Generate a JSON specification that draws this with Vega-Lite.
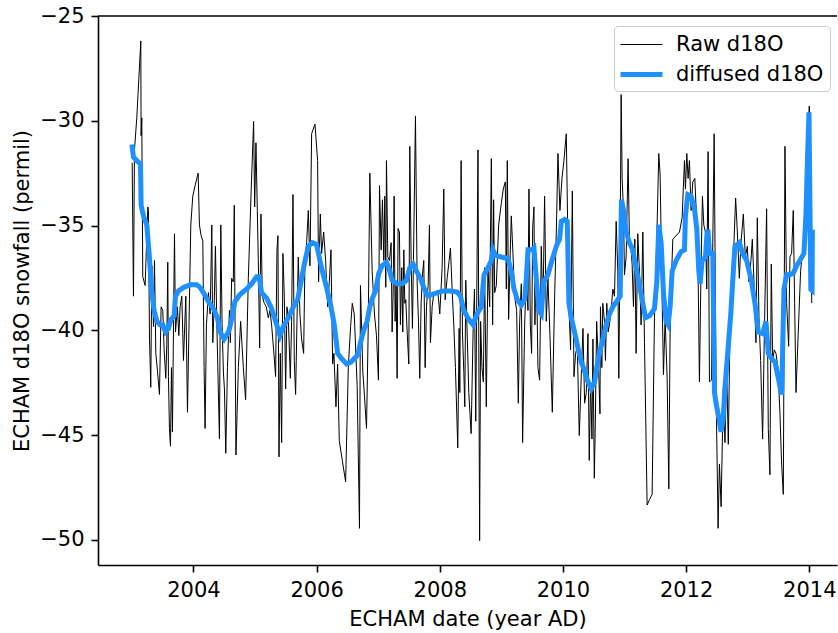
{
  "$schema": "https://vega.github.io/schema/vega-lite/v6.json",
  "width": 739,
  "height": 549,
  "autosize": {"type": "none"},
  "padding": {"left": 98, "top": 16, "right": 1, "bottom": 68},
  "background": "white",
  "config": {
    "font": "DejaVu Sans",
    "view": {"stroke": null},
    "axis": {
      "labelFont": "DejaVu Sans", "labelFontSize": 21, "labelColor": "black",
      "titleFont": "DejaVu Sans", "titleFontSize": 21, "titleFontWeight": "normal", "titleColor": "black",
      "tickColor": "black", "tickSize": 7, "tickWidth": 1.6,
      "domainColor": "black", "domainWidth": 1.6, "grid": false, "labelPadding": 7
    },
    "legend": {
      "orient": "none", "legendX": 516, "legendY": 10,
      "labelFont": "DejaVu Sans", "labelFontSize": 21, "labelColor": "black",
      "symbolType": "M-1.75,0L1.75,0", "symbolSize": 576, "symbolOffset": 7, "labelOffset": 20,
      "fillColor": "white", "strokeColor": "#cccccc", "cornerRadius": 4,
      "padding": 6, "rowPadding": 5
    }
  },
  "datasets": {
    "series": [
      {"s":"Raw d18O","t":2003.005,"v":-32.0},{"s":"Raw d18O","t":2003.026,"v":-38.37},{"s":"Raw d18O","t":2003.042,"v":-31.39},{"s":"Raw d18O","t":2003.080,"v":-29.86},{"s":"Raw d18O","t":2003.145,"v":-26.19},{"s":"Raw d18O","t":2003.150,"v":-30.71},{"s":"Raw d18O","t":2003.161,"v":-29.86},{"s":"Raw d18O","t":2003.177,"v":-37.44},{"s":"Raw d18O","t":2003.215,"v":-37.86},{"s":"Raw d18O","t":2003.259,"v":-34.11},{"s":"Raw d18O","t":2003.269,"v":-34.28},{"s":"Raw d18O","t":2003.286,"v":-40.33},{"s":"Raw d18O","t":2003.307,"v":-42.72},{"s":"Raw d18O","t":2003.324,"v":-36.92},{"s":"Raw d18O","t":2003.351,"v":-39.82},{"s":"Raw d18O","t":2003.367,"v":-36.67},{"s":"Raw d18O","t":2003.389,"v":-41.10},{"s":"Raw d18O","t":2003.416,"v":-41.95},{"s":"Raw d18O","t":2003.448,"v":-43.06},{"s":"Raw d18O","t":2003.475,"v":-38.88},{"s":"Raw d18O","t":2003.502,"v":-39.05},{"s":"Raw d18O","t":2003.524,"v":-40.93},{"s":"Raw d18O","t":2003.551,"v":-42.29},{"s":"Raw d18O","t":2003.567,"v":-40.67},{"s":"Raw d18O","t":2003.583,"v":-36.75},{"s":"Raw d18O","t":2003.594,"v":-42.21},{"s":"Raw d18O","t":2003.610,"v":-44.68},{"s":"Raw d18O","t":2003.627,"v":-45.53},{"s":"Raw d18O","t":2003.643,"v":-41.78},{"s":"Raw d18O","t":2003.659,"v":-44.85},{"s":"Raw d18O","t":2003.675,"v":-40.08},{"s":"Raw d18O","t":2003.692,"v":-35.39},{"s":"Raw d18O","t":2003.708,"v":-40.08},{"s":"Raw d18O","t":2003.740,"v":-38.88},{"s":"Raw d18O","t":2003.762,"v":-40.25},{"s":"Raw d18O","t":2003.784,"v":-38.88},{"s":"Raw d18O","t":2003.811,"v":-38.37},{"s":"Raw d18O","t":2003.838,"v":-41.44},{"s":"Raw d18O","t":2003.876,"v":-38.37},{"s":"Raw d18O","t":2003.903,"v":-43.91},{"s":"Raw d18O","t":2003.935,"v":-38.54},{"s":"Raw d18O","t":2003.957,"v":-34.97},{"s":"Raw d18O","t":2003.989,"v":-33.60},{"s":"Raw d18O","t":2004.027,"v":-33.09},{"s":"Raw d18O","t":2004.076,"v":-32.50},{"s":"Raw d18O","t":2004.097,"v":-34.97},{"s":"Raw d18O","t":2004.124,"v":-35.48},{"s":"Raw d18O","t":2004.152,"v":-35.73},{"s":"Raw d18O","t":2004.173,"v":-41.78},{"s":"Raw d18O","t":2004.189,"v":-44.68},{"s":"Raw d18O","t":2004.211,"v":-39.74},{"s":"Raw d18O","t":2004.244,"v":-38.20},{"s":"Raw d18O","t":2004.271,"v":-39.22},{"s":"Raw d18O","t":2004.298,"v":-34.97},{"s":"Raw d18O","t":2004.314,"v":-40.59},{"s":"Raw d18O","t":2004.335,"v":-39.05},{"s":"Raw d18O","t":2004.357,"v":-35.99},{"s":"Raw d18O","t":2004.379,"v":-39.57},{"s":"Raw d18O","t":2004.406,"v":-43.14},{"s":"Raw d18O","t":2004.422,"v":-45.19},{"s":"Raw d18O","t":2004.444,"v":-34.97},{"s":"Raw d18O","t":2004.465,"v":-39.74},{"s":"Raw d18O","t":2004.487,"v":-42.04},{"s":"Raw d18O","t":2004.503,"v":-42.80},{"s":"Raw d18O","t":2004.525,"v":-45.87},{"s":"Raw d18O","t":2004.552,"v":-41.78},{"s":"Raw d18O","t":2004.584,"v":-39.05},
      {"s":"Raw d18O","t":2004.600,"v":-40.59},{"s":"Raw d18O","t":2004.620,"v":-37.52},{"s":"Raw d18O","t":2004.647,"v":-37.69},{"s":"Raw d18O","t":2004.663,"v":-34.03},{"s":"Raw d18O","t":2004.690,"v":-45.95},{"s":"Raw d18O","t":2004.729,"v":-41.78},{"s":"Raw d18O","t":2004.766,"v":-39.57},{"s":"Raw d18O","t":2004.810,"v":-41.78},{"s":"Raw d18O","t":2004.847,"v":-43.31},{"s":"Raw d18O","t":2004.891,"v":-37.52},{"s":"Raw d18O","t":2004.934,"v":-33.60},{"s":"Raw d18O","t":2004.977,"v":-30.03},{"s":"Raw d18O","t":2004.994,"v":-34.11},{"s":"Raw d18O","t":2005.015,"v":-31.05},{"s":"Raw d18O","t":2005.037,"v":-34.28},{"s":"Raw d18O","t":2005.053,"v":-36.67},{"s":"Raw d18O","t":2005.075,"v":-40.84},{"s":"Raw d18O","t":2005.096,"v":-34.45},{"s":"Raw d18O","t":2005.118,"v":-38.37},{"s":"Raw d18O","t":2005.150,"v":-38.71},{"s":"Raw d18O","t":2005.183,"v":-38.88},{"s":"Raw d18O","t":2005.215,"v":-39.40},{"s":"Raw d18O","t":2005.242,"v":-39.05},{"s":"Raw d18O","t":2005.269,"v":-39.74},{"s":"Raw d18O","t":2005.302,"v":-40.93},{"s":"Raw d18O","t":2005.334,"v":-42.21},{"s":"Raw d18O","t":2005.356,"v":-36.16},{"s":"Raw d18O","t":2005.372,"v":-35.48},{"s":"Raw d18O","t":2005.389,"v":-46.04},{"s":"Raw d18O","t":2005.410,"v":-41.10},{"s":"Raw d18O","t":2005.432,"v":-45.36},{"s":"Raw d18O","t":2005.453,"v":-36.33},{"s":"Raw d18O","t":2005.475,"v":-38.37},{"s":"Raw d18O","t":2005.497,"v":-42.80},{"s":"Raw d18O","t":2005.518,"v":-38.88},{"s":"Raw d18O","t":2005.540,"v":-39.40},{"s":"Raw d18O","t":2005.573,"v":-42.29},{"s":"Raw d18O","t":2005.594,"v":-39.57},{"s":"Raw d18O","t":2005.616,"v":-33.52},{"s":"Raw d18O","t":2005.637,"v":-41.44},{"s":"Raw d18O","t":2005.659,"v":-43.06},{"s":"Raw d18O","t":2005.681,"v":-39.57},{"s":"Raw d18O","t":2005.702,"v":-36.50},{"s":"Raw d18O","t":2005.729,"v":-39.22},{"s":"Raw d18O","t":2005.756,"v":-40.42},{"s":"Raw d18O","t":2005.789,"v":-41.10},{"s":"Raw d18O","t":2005.811,"v":-36.67},{"s":"Raw d18O","t":2005.838,"v":-35.82},{"s":"Raw d18O","t":2005.865,"v":-34.28},{"s":"Raw d18O","t":2005.892,"v":-36.92},{"s":"Raw d18O","t":2005.919,"v":-30.62},{"s":"Raw d18O","t":2005.973,"v":-30.16},{"s":"Raw d18O","t":2006.016,"v":-31.90},{"s":"Raw d18O","t":2006.032,"v":-37.69},{"s":"Raw d18O","t":2006.060,"v":-34.45},{"s":"Raw d18O","t":2006.081,"v":-36.33},{"s":"Raw d18O","t":2006.114,"v":-35.31},{"s":"Raw d18O","t":2006.146,"v":-36.67},{"s":"Raw d18O","t":2006.179,"v":-38.88},{"s":"Raw d18O","t":2006.206,"v":-37.69},{"s":"Raw d18O","t":2006.233,"v":-36.16},{"s":"Raw d18O","t":2006.260,"v":-41.61},{"s":"Raw d18O","t":2006.281,"v":-41.10},{"s":"Raw d18O","t":2006.314,"v":-43.65},{"s":"Raw d18O","t":2006.341,"v":-41.61},{"s":"Raw d18O","t":2006.368,"v":-45.27},{"s":"Raw d18O","t":2006.417,"v":-46.21},{"s":"Raw d18O","t":2006.471,"v":-47.23},{"s":"Raw d18O","t":2006.514,"v":-41.78},{"s":"Raw d18O","t":2006.552,"v":-39.82},{"s":"Raw d18O","t":2006.579,"v":-38.71},{"s":"Raw d18O","t":2006.611,"v":-39.22},
      {"s":"Raw d18O","t":2006.658,"v":-42.63},{"s":"Raw d18O","t":2006.696,"v":-49.45},{"s":"Raw d18O","t":2006.712,"v":-37.86},{"s":"Raw d18O","t":2006.750,"v":-41.95},{"s":"Raw d18O","t":2006.777,"v":-43.14},{"s":"Raw d18O","t":2006.810,"v":-44.68},{"s":"Raw d18O","t":2006.837,"v":-40.08},{"s":"Raw d18O","t":2006.864,"v":-32.50},{"s":"Raw d18O","t":2006.902,"v":-37.18},{"s":"Raw d18O","t":2006.939,"v":-39.22},{"s":"Raw d18O","t":2006.972,"v":-40.25},{"s":"Raw d18O","t":2007.004,"v":-42.38},{"s":"Raw d18O","t":2007.021,"v":-33.09},{"s":"Raw d18O","t":2007.048,"v":-36.16},{"s":"Raw d18O","t":2007.069,"v":-33.77},{"s":"Raw d18O","t":2007.091,"v":-36.67},{"s":"Raw d18O","t":2007.107,"v":-33.60},{"s":"Raw d18O","t":2007.123,"v":-37.95},{"s":"Raw d18O","t":2007.134,"v":-31.90},{"s":"Raw d18O","t":2007.156,"v":-36.50},{"s":"Raw d18O","t":2007.183,"v":-36.67},{"s":"Raw d18O","t":2007.210,"v":-35.82},{"s":"Raw d18O","t":2007.226,"v":-40.08},{"s":"Raw d18O","t":2007.242,"v":-38.37},{"s":"Raw d18O","t":2007.259,"v":-33.60},{"s":"Raw d18O","t":2007.275,"v":-39.57},{"s":"Raw d18O","t":2007.291,"v":-37.69},{"s":"Raw d18O","t":2007.307,"v":-42.29},{"s":"Raw d18O","t":2007.323,"v":-35.14},{"s":"Raw d18O","t":2007.345,"v":-35.31},{"s":"Raw d18O","t":2007.361,"v":-39.74},{"s":"Raw d18O","t":2007.383,"v":-37.01},{"s":"Raw d18O","t":2007.399,"v":-40.08},{"s":"Raw d18O","t":2007.416,"v":-36.16},{"s":"Raw d18O","t":2007.432,"v":-38.71},{"s":"Raw d18O","t":2007.448,"v":-38.54},{"s":"Raw d18O","t":2007.470,"v":-40.08},{"s":"Raw d18O","t":2007.497,"v":-41.61},{"s":"Raw d18O","t":2007.513,"v":-31.22},{"s":"Raw d18O","t":2007.535,"v":-36.67},{"s":"Raw d18O","t":2007.556,"v":-39.91},{"s":"Raw d18O","t":2007.578,"v":-35.48},{"s":"Raw d18O","t":2007.605,"v":-29.77},{"s":"Raw d18O","t":2007.632,"v":-37.69},{"s":"Raw d18O","t":2007.654,"v":-39.57},{"s":"Raw d18O","t":2007.675,"v":-42.29},{"s":"Raw d18O","t":2007.697,"v":-38.71},{"s":"Raw d18O","t":2007.719,"v":-37.35},{"s":"Raw d18O","t":2007.740,"v":-36.67},{"s":"Raw d18O","t":2007.762,"v":-41.78},{"s":"Raw d18O","t":2007.784,"v":-38.88},{"s":"Raw d18O","t":2007.811,"v":-37.86},{"s":"Raw d18O","t":2007.832,"v":-34.97},{"s":"Raw d18O","t":2007.848,"v":-40.59},{"s":"Raw d18O","t":2007.876,"v":-38.88},{"s":"Raw d18O","t":2007.903,"v":-38.20},{"s":"Raw d18O","t":2007.930,"v":-38.20},{"s":"Raw d18O","t":2007.968,"v":-38.12},{"s":"Raw d18O","t":2008.000,"v":-39.22},{"s":"Raw d18O","t":2008.038,"v":-37.01},{"s":"Raw d18O","t":2008.065,"v":-33.26},{"s":"Raw d18O","t":2008.087,"v":-38.54},{"s":"Raw d18O","t":2008.119,"v":-37.52},{"s":"Raw d18O","t":2008.152,"v":-36.67},{"s":"Raw d18O","t":2008.173,"v":-36.07},{"s":"Raw d18O","t":2008.200,"v":-38.03},{"s":"Raw d18O","t":2008.227,"v":-39.74},{"s":"Raw d18O","t":2008.254,"v":-41.78},{"s":"Raw d18O","t":2008.292,"v":-45.61},{"s":"Raw d18O","t":2008.314,"v":-39.91},{"s":"Raw d18O","t":2008.325,"v":-42.97},{"s":"Raw d18O","t":2008.346,"v":-31.90},{"s":"Raw d18O","t":2008.368,"v":-40.08},{"s":"Raw d18O","t":2008.390,"v":-41.95},{"s":"Raw d18O","t":2008.406,"v":-43.65},{"s":"Raw d18O","t":2008.422,"v":-37.61},{"s":"Raw d18O","t":2008.444,"v":-40.08},{"s":"Raw d18O","t":2008.471,"v":-42.97},{"s":"Raw d18O","t":2008.509,"v":-44.93},{"s":"Raw d18O","t":2008.541,"v":-40.08},{"s":"Raw d18O","t":2008.563,"v":-38.03},{"s":"Raw d18O","t":2008.584,"v":-44.34},
      {"s":"Raw d18O","t":2008.620,"v":-31.39},{"s":"Raw d18O","t":2008.647,"v":-50.04},{"s":"Raw d18O","t":2008.663,"v":-39.57},{"s":"Raw d18O","t":2008.685,"v":-41.78},{"s":"Raw d18O","t":2008.707,"v":-42.46},{"s":"Raw d18O","t":2008.728,"v":-37.01},{"s":"Raw d18O","t":2008.755,"v":-43.65},{"s":"Raw d18O","t":2008.782,"v":-37.01},{"s":"Raw d18O","t":2008.810,"v":-38.88},{"s":"Raw d18O","t":2008.837,"v":-31.81},{"s":"Raw d18O","t":2008.858,"v":-39.74},{"s":"Raw d18O","t":2008.874,"v":-33.77},{"s":"Raw d18O","t":2008.891,"v":-38.20},{"s":"Raw d18O","t":2008.918,"v":-37.86},{"s":"Raw d18O","t":2008.956,"v":-34.97},{"s":"Raw d18O","t":2008.999,"v":-33.94},{"s":"Raw d18O","t":2009.031,"v":-33.26},{"s":"Raw d18O","t":2009.064,"v":-32.92},{"s":"Raw d18O","t":2009.080,"v":-38.03},{"s":"Raw d18O","t":2009.096,"v":-31.90},{"s":"Raw d18O","t":2009.118,"v":-39.48},{"s":"Raw d18O","t":2009.140,"v":-36.67},{"s":"Raw d18O","t":2009.161,"v":-34.54},{"s":"Raw d18O","t":2009.188,"v":-36.33},{"s":"Raw d18O","t":2009.215,"v":-38.37},{"s":"Raw d18O","t":2009.248,"v":-39.05},{"s":"Raw d18O","t":2009.275,"v":-43.48},{"s":"Raw d18O","t":2009.297,"v":-39.57},{"s":"Raw d18O","t":2009.324,"v":-37.78},{"s":"Raw d18O","t":2009.345,"v":-45.36},{"s":"Raw d18O","t":2009.378,"v":-39.74},{"s":"Raw d18O","t":2009.405,"v":-37.35},{"s":"Raw d18O","t":2009.432,"v":-39.05},{"s":"Raw d18O","t":2009.448,"v":-33.26},{"s":"Raw d18O","t":2009.470,"v":-39.74},{"s":"Raw d18O","t":2009.491,"v":-41.10},{"s":"Raw d18O","t":2009.508,"v":-35.14},{"s":"Raw d18O","t":2009.529,"v":-34.11},{"s":"Raw d18O","t":2009.545,"v":-39.74},{"s":"Raw d18O","t":2009.567,"v":-36.33},{"s":"Raw d18O","t":2009.594,"v":-41.78},{"s":"Raw d18O","t":2009.621,"v":-42.38},{"s":"Raw d18O","t":2009.648,"v":-35.99},{"s":"Raw d18O","t":2009.675,"v":-39.05},{"s":"Raw d18O","t":2009.702,"v":-33.60},{"s":"Raw d18O","t":2009.729,"v":-39.57},{"s":"Raw d18O","t":2009.756,"v":-37.52},{"s":"Raw d18O","t":2009.789,"v":-40.25},{"s":"Raw d18O","t":2009.827,"v":-43.91},{"s":"Raw d18O","t":2009.865,"v":-38.37},{"s":"Raw d18O","t":2009.892,"v":-35.31},{"s":"Raw d18O","t":2009.919,"v":-31.56},{"s":"Raw d18O","t":2009.951,"v":-34.28},{"s":"Raw d18O","t":2009.984,"v":-32.75},{"s":"Raw d18O","t":2010.016,"v":-31.90},{"s":"Raw d18O","t":2010.054,"v":-30.62},{"s":"Raw d18O","t":2010.097,"v":-38.88},{"s":"Raw d18O","t":2010.124,"v":-40.93},{"s":"Raw d18O","t":2010.152,"v":-33.35},{"s":"Raw d18O","t":2010.179,"v":-42.21},{"s":"Raw d18O","t":2010.206,"v":-41.10},{"s":"Raw d18O","t":2010.233,"v":-40.76},{"s":"Raw d18O","t":2010.265,"v":-45.02},{"s":"Raw d18O","t":2010.298,"v":-42.12},{"s":"Raw d18O","t":2010.325,"v":-39.91},{"s":"Raw d18O","t":2010.352,"v":-43.48},{"s":"Raw d18O","t":2010.379,"v":-42.97},{"s":"Raw d18O","t":2010.406,"v":-40.16},{"s":"Raw d18O","t":2010.427,"v":-46.21},{"s":"Raw d18O","t":2010.449,"v":-42.46},{"s":"Raw d18O","t":2010.471,"v":-45.19},{"s":"Raw d18O","t":2010.487,"v":-40.42},{"s":"Raw d18O","t":2010.509,"v":-47.06},{"s":"Raw d18O","t":2010.525,"v":-44.51},{"s":"Raw d18O","t":2010.547,"v":-39.57},{"s":"Raw d18O","t":2010.579,"v":-41.78},{"s":"Raw d18O","t":2010.601,"v":-43.99},
      {"s":"Raw d18O","t":2010.609,"v":-38.88},{"s":"Raw d18O","t":2010.631,"v":-41.78},{"s":"Raw d18O","t":2010.647,"v":-38.71},{"s":"Raw d18O","t":2010.674,"v":-39.57},{"s":"Raw d18O","t":2010.690,"v":-41.44},{"s":"Raw d18O","t":2010.712,"v":-38.71},{"s":"Raw d18O","t":2010.734,"v":-40.08},{"s":"Raw d18O","t":2010.755,"v":-39.74},{"s":"Raw d18O","t":2010.782,"v":-39.05},{"s":"Raw d18O","t":2010.810,"v":-38.03},{"s":"Raw d18O","t":2010.837,"v":-38.37},{"s":"Raw d18O","t":2010.864,"v":-34.80},{"s":"Raw d18O","t":2010.891,"v":-37.18},{"s":"Raw d18O","t":2010.907,"v":-42.29},{"s":"Raw d18O","t":2010.929,"v":-35.65},{"s":"Raw d18O","t":2010.945,"v":-28.75},{"s":"Raw d18O","t":2010.961,"v":-32.75},{"s":"Raw d18O","t":2010.983,"v":-34.28},{"s":"Raw d18O","t":2010.999,"v":-37.35},{"s":"Raw d18O","t":2011.026,"v":-36.50},{"s":"Raw d18O","t":2011.058,"v":-31.81},{"s":"Raw d18O","t":2011.080,"v":-35.82},{"s":"Raw d18O","t":2011.102,"v":-35.99},{"s":"Raw d18O","t":2011.123,"v":-36.84},{"s":"Raw d18O","t":2011.145,"v":-38.88},{"s":"Raw d18O","t":2011.167,"v":-35.65},{"s":"Raw d18O","t":2011.188,"v":-41.10},{"s":"Raw d18O","t":2011.215,"v":-35.39},{"s":"Raw d18O","t":2011.242,"v":-37.18},{"s":"Raw d18O","t":2011.269,"v":-39.74},{"s":"Raw d18O","t":2011.297,"v":-35.31},{"s":"Raw d18O","t":2011.324,"v":-40.59},{"s":"Raw d18O","t":2011.367,"v":-48.34},{"s":"Raw d18O","t":2011.405,"v":-48.08},{"s":"Raw d18O","t":2011.448,"v":-47.83},{"s":"Raw d18O","t":2011.486,"v":-39.40},{"s":"Raw d18O","t":2011.524,"v":-35.65},{"s":"Raw d18O","t":2011.556,"v":-31.56},{"s":"Raw d18O","t":2011.578,"v":-32.58},{"s":"Raw d18O","t":2011.610,"v":-38.37},{"s":"Raw d18O","t":2011.632,"v":-42.12},{"s":"Raw d18O","t":2011.659,"v":-39.40},{"s":"Raw d18O","t":2011.692,"v":-42.29},{"s":"Raw d18O","t":2011.719,"v":-47.57},{"s":"Raw d18O","t":2011.740,"v":-40.08},{"s":"Raw d18O","t":2011.762,"v":-37.52},{"s":"Raw d18O","t":2011.784,"v":-35.65},{"s":"Raw d18O","t":2011.892,"v":-35.31},{"s":"Raw d18O","t":2011.935,"v":-34.63},{"s":"Raw d18O","t":2011.973,"v":-31.90},{"s":"Raw d18O","t":2011.989,"v":-33.26},{"s":"Raw d18O","t":2012.011,"v":-31.56},{"s":"Raw d18O","t":2012.032,"v":-32.75},{"s":"Raw d18O","t":2012.054,"v":-31.90},{"s":"Raw d18O","t":2012.081,"v":-34.28},{"s":"Raw d18O","t":2012.108,"v":-32.92},{"s":"Raw d18O","t":2012.141,"v":-32.75},{"s":"Raw d18O","t":2012.168,"v":-34.54},{"s":"Raw d18O","t":2012.195,"v":-37.35},{"s":"Raw d18O","t":2012.216,"v":-42.46},{"s":"Raw d18O","t":2012.244,"v":-36.67},{"s":"Raw d18O","t":2012.265,"v":-33.60},{"s":"Raw d18O","t":2012.287,"v":-34.97},{"s":"Raw d18O","t":2012.314,"v":-35.31},{"s":"Raw d18O","t":2012.335,"v":-38.03},{"s":"Raw d18O","t":2012.357,"v":-31.47},{"s":"Raw d18O","t":2012.379,"v":-42.46},{"s":"Raw d18O","t":2012.411,"v":-42.38},{"s":"Raw d18O","t":2012.433,"v":-35.82},{"s":"Raw d18O","t":2012.455,"v":-30.62},{"s":"Raw d18O","t":2012.487,"v":-42.97},{"s":"Raw d18O","t":2012.519,"v":-49.45},{"s":"Raw d18O","t":2012.541,"v":-46.38},{"s":"Raw d18O","t":2012.568,"v":-48.42},
      {"s":"Raw d18O","t":2012.604,"v":-42.80},{"s":"Raw d18O","t":2012.631,"v":-45.36},{"s":"Raw d18O","t":2012.658,"v":-41.78},{"s":"Raw d18O","t":2012.685,"v":-45.44},{"s":"Raw d18O","t":2012.712,"v":-40.08},{"s":"Raw d18O","t":2012.739,"v":-38.37},{"s":"Raw d18O","t":2012.766,"v":-36.67},{"s":"Raw d18O","t":2012.804,"v":-33.69},{"s":"Raw d18O","t":2012.832,"v":-35.31},{"s":"Raw d18O","t":2012.864,"v":-37.52},{"s":"Raw d18O","t":2012.891,"v":-35.82},{"s":"Raw d18O","t":2012.929,"v":-34.45},{"s":"Raw d18O","t":2012.961,"v":-36.50},{"s":"Raw d18O","t":2012.994,"v":-35.99},{"s":"Raw d18O","t":2013.021,"v":-37.69},{"s":"Raw d18O","t":2013.053,"v":-36.67},{"s":"Raw d18O","t":2013.075,"v":-35.65},{"s":"Raw d18O","t":2013.102,"v":-37.69},{"s":"Raw d18O","t":2013.134,"v":-40.59},{"s":"Raw d18O","t":2013.156,"v":-34.63},{"s":"Raw d18O","t":2013.183,"v":-39.40},{"s":"Raw d18O","t":2013.210,"v":-41.44},{"s":"Raw d18O","t":2013.242,"v":-45.19},{"s":"Raw d18O","t":2013.269,"v":-40.42},{"s":"Raw d18O","t":2013.307,"v":-34.20},{"s":"Raw d18O","t":2013.334,"v":-44.68},{"s":"Raw d18O","t":2013.361,"v":-46.89},{"s":"Raw d18O","t":2013.383,"v":-36.84},{"s":"Raw d18O","t":2013.405,"v":-41.44},{"s":"Raw d18O","t":2013.432,"v":-40.93},{"s":"Raw d18O","t":2013.459,"v":-41.10},{"s":"Raw d18O","t":2013.491,"v":-41.78},{"s":"Raw d18O","t":2013.524,"v":-43.99},{"s":"Raw d18O","t":2013.551,"v":-46.38},{"s":"Raw d18O","t":2013.578,"v":-47.83},{"s":"Raw d18O","t":2013.605,"v":-31.22},{"s":"Raw d18O","t":2013.632,"v":-38.71},{"s":"Raw d18O","t":2013.665,"v":-40.76},{"s":"Raw d18O","t":2013.686,"v":-36.50},{"s":"Raw d18O","t":2013.713,"v":-36.33},{"s":"Raw d18O","t":2013.740,"v":-34.28},{"s":"Raw d18O","t":2013.762,"v":-38.71},{"s":"Raw d18O","t":2013.784,"v":-42.97},{"s":"Raw d18O","t":2013.821,"v":-40.08},{"s":"Raw d18O","t":2013.859,"v":-37.18},{"s":"Raw d18O","t":2013.903,"v":-35.82},{"s":"Raw d18O","t":2013.946,"v":-34.63},{"s":"Raw d18O","t":2013.972,"v":-31.56},{"s":"Raw d18O","t":2014.000,"v":-29.30},{"s":"Raw d18O","t":2014.040,"v":-38.70},
      {"s":"diffused d18O","t":2003.000,"v":-31.13},{"s":"diffused d18O","t":2003.026,"v":-31.73},{"s":"diffused d18O","t":2003.080,"v":-31.90},{"s":"diffused d18O","t":2003.140,"v":-32.07},{"s":"diffused d18O","t":2003.150,"v":-34.03},{"s":"diffused d18O","t":2003.188,"v":-34.54},{"s":"diffused d18O","t":2003.242,"v":-34.97},{"s":"diffused d18O","t":2003.280,"v":-36.33},{"s":"diffused d18O","t":2003.324,"v":-38.20},{"s":"diffused d18O","t":2003.361,"v":-39.05},{"s":"diffused d18O","t":2003.405,"v":-39.57},{"s":"diffused d18O","t":2003.459,"v":-39.74},{"s":"diffused d18O","t":2003.502,"v":-39.74},{"s":"diffused d18O","t":2003.545,"v":-40.08},{"s":"diffused d18O","t":2003.594,"v":-39.91},{"s":"diffused d18O","t":2003.637,"v":-39.48},{"s":"diffused d18O","t":2003.686,"v":-39.31},{"s":"diffused d18O","t":2003.708,"v":-38.37},{"s":"diffused d18O","t":2003.756,"v":-38.12},{"s":"diffused d18O","t":2003.838,"v":-37.95},{"s":"diffused d18O","t":2003.946,"v":-37.83},{"s":"diffused d18O","t":2004.054,"v":-37.83},{"s":"diffused d18O","t":2004.108,"v":-37.95},{"s":"diffused d18O","t":2004.162,"v":-38.20},{"s":"diffused d18O","t":2004.244,"v":-38.63},{"s":"diffused d18O","t":2004.325,"v":-38.97},{"s":"diffused d18O","t":2004.390,"v":-39.40},{"s":"diffused d18O","t":2004.433,"v":-40.08},{"s":"diffused d18O","t":2004.498,"v":-40.42},{"s":"diffused d18O","t":2004.568,"v":-40.08},{"s":"diffused d18O","t":2004.600,"v":-39.74},{"s":"diffused d18O","t":2004.674,"v":-38.63},{"s":"diffused d18O","t":2004.755,"v":-38.29},{"s":"diffused d18O","t":2004.864,"v":-38.03},{"s":"diffused d18O","t":2004.945,"v":-37.78},{"s":"diffused d18O","t":2005.026,"v":-37.44},{"s":"diffused d18O","t":2005.064,"v":-37.44},{"s":"diffused d18O","t":2005.107,"v":-38.20},{"s":"diffused d18O","t":2005.188,"v":-38.46},{"s":"diffused d18O","t":2005.269,"v":-38.97},{"s":"diffused d18O","t":2005.334,"v":-39.57},{"s":"diffused d18O","t":2005.405,"v":-40.25},{"s":"diffused d18O","t":2005.459,"v":-39.82},{"s":"diffused d18O","t":2005.540,"v":-39.40},{"s":"diffused d18O","t":2005.621,"v":-38.88},{"s":"diffused d18O","t":2005.692,"v":-38.54},{"s":"diffused d18O","t":2005.746,"v":-37.69},{"s":"diffused d18O","t":2005.800,"v":-36.84},{"s":"diffused d18O","t":2005.865,"v":-35.99},{"s":"diffused d18O","t":2005.930,"v":-35.82},{"s":"diffused d18O","t":2006.000,"v":-35.90},{"s":"diffused d18O","t":2006.054,"v":-36.67},{"s":"diffused d18O","t":2006.108,"v":-37.35},{"s":"diffused d18O","t":2006.162,"v":-37.95},{"s":"diffused d18O","t":2006.233,"v":-38.88},{"s":"diffused d18O","t":2006.287,"v":-39.74},{"s":"diffused d18O","t":2006.341,"v":-41.10},{"s":"diffused d18O","t":2006.406,"v":-41.35},{"s":"diffused d18O","t":2006.487,"v":-41.61},{"s":"diffused d18O","t":2006.557,"v":-41.52},{"s":"diffused d18O","t":2006.611,"v":-41.35},{"s":"diffused d18O","t":2006.669,"v":-41.18},{"s":"diffused d18O","t":2006.712,"v":-40.59},{"s":"diffused d18O","t":2006.766,"v":-39.99},{"s":"diffused d18O","t":2006.820,"v":-39.57},{"s":"diffused d18O","t":2006.864,"v":-38.88},{"s":"diffused d18O","t":2006.907,"v":-38.46},{"s":"diffused d18O","t":2006.956,"v":-38.12},{"s":"diffused d18O","t":2007.010,"v":-37.27},{"s":"diffused d18O","t":2007.064,"v":-36.92},{"s":"diffused d18O","t":2007.134,"v":-36.75},{"s":"diffused d18O","t":2007.172,"v":-37.01},{"s":"diffused d18O","t":2007.226,"v":-37.61},{"s":"diffused d18O","t":2007.307,"v":-37.78},{"s":"diffused d18O","t":2007.389,"v":-37.78},{"s":"diffused d18O","t":2007.459,"v":-37.61},{"s":"diffused d18O","t":2007.513,"v":-37.01},{"s":"diffused d18O","t":2007.567,"v":-36.84},{"s":"diffused d18O","t":2007.621,"v":-37.18},{"s":"diffused d18O","t":2007.686,"v":-37.52},{"s":"diffused d18O","t":2007.751,"v":-38.03},{"s":"diffused d18O","t":2007.805,"v":-38.37},{"s":"diffused d18O","t":2007.876,"v":-38.29},{"s":"diffused d18O","t":2007.957,"v":-38.20},{"s":"diffused d18O","t":2008.065,"v":-38.12},{"s":"diffused d18O","t":2008.173,"v":-38.12},{"s":"diffused d18O","t":2008.281,"v":-38.17},{"s":"diffused d18O","t":2008.335,"v":-38.37},{"s":"diffused d18O","t":2008.390,"v":-39.05},{"s":"diffused d18O","t":2008.471,"v":-39.48},{"s":"diffused d18O","t":2008.541,"v":-39.74},{"s":"diffused d18O","t":2008.580,"v":-39.40},{"s":"diffused d18O","t":2008.620,"v":-39.14},{"s":"diffused d18O","t":2008.674,"v":-38.88},{"s":"diffused d18O","t":2008.718,"v":-37.35},{"s":"diffused d18O","t":2008.782,"v":-37.01},{"s":"diffused d18O","t":2008.837,"v":-36.67},{"s":"diffused d18O","t":2008.864,"v":-36.16},{"s":"diffused d18O","t":2008.902,"v":-36.41},{"s":"diffused d18O","t":2008.999,"v":-36.50},{"s":"diffused d18O","t":2009.107,"v":-36.58},{"s":"diffused d18O","t":2009.161,"v":-37.18},{"s":"diffused d18O","t":2009.205,"v":-38.03},{"s":"diffused d18O","t":2009.259,"v":-38.54},{"s":"diffused d18O","t":2009.324,"v":-38.80},{"s":"diffused d18O","t":2009.378,"v":-38.54},{"s":"diffused d18O","t":2009.405,"v":-37.52},{"s":"diffused d18O","t":2009.432,"v":-36.16},{"s":"diffused d18O","t":2009.497,"v":-36.16},{"s":"diffused d18O","t":2009.529,"v":-36.07},{"s":"diffused d18O","t":2009.567,"v":-37.52},{"s":"diffused d18O","t":2009.610,"v":-39.05},{"s":"diffused d18O","t":2009.648,"v":-39.22},{"s":"diffused d18O","t":2009.686,"v":-37.69},{"s":"diffused d18O","t":2009.756,"v":-37.35},{"s":"diffused d18O","t":2009.821,"v":-36.67},{"s":"diffused d18O","t":2009.892,"v":-35.99},{"s":"diffused d18O","t":2009.946,"v":-35.65},{"s":"diffused d18O","t":2009.973,"v":-34.80},{"s":"diffused d18O","t":2010.027,"v":-34.71},{"s":"diffused d18O","t":2010.070,"v":-34.80},{"s":"diffused d18O","t":2010.097,"v":-38.71},{"s":"diffused d18O","t":2010.135,"v":-39.40},{"s":"diffused d18O","t":2010.189,"v":-40.08},{"s":"diffused d18O","t":2010.244,"v":-40.84},{"s":"diffused d18O","t":2010.298,"v":-41.52},{"s":"diffused d18O","t":2010.352,"v":-41.95},{"s":"diffused d18O","t":2010.406,"v":-42.46},{"s":"diffused d18O","t":2010.460,"v":-42.80},{"s":"diffused d18O","t":2010.514,"v":-42.46},{"s":"diffused d18O","t":2010.568,"v":-41.44},{"s":"diffused d18O","t":2010.647,"v":-40.42},{"s":"diffused d18O","t":2010.701,"v":-39.74},{"s":"diffused d18O","t":2010.755,"v":-39.22},{"s":"diffused d18O","t":2010.810,"v":-38.88},{"s":"diffused d18O","t":2010.891,"v":-38.54},{"s":"diffused d18O","t":2010.929,"v":-38.37},{"s":"diffused d18O","t":2010.950,"v":-33.77},{"s":"diffused d18O","t":2010.983,"v":-34.28},{"s":"diffused d18O","t":2011.026,"v":-35.31},{"s":"diffused d18O","t":2011.080,"v":-35.82},{"s":"diffused d18O","t":2011.134,"v":-36.16},{"s":"diffused d18O","t":2011.188,"v":-37.01},{"s":"diffused d18O","t":2011.242,"v":-37.86},{"s":"diffused d18O","t":2011.297,"v":-38.71},{"s":"diffused d18O","t":2011.340,"v":-39.40},{"s":"diffused d18O","t":2011.405,"v":-39.31},{"s":"diffused d18O","t":2011.486,"v":-38.97},{"s":"diffused d18O","t":2011.524,"v":-37.69},{"s":"diffused d18O","t":2011.556,"v":-34.97},{"s":"diffused d18O","t":2011.594,"v":-35.82},{"s":"diffused d18O","t":2011.632,"v":-38.20},{"s":"diffused d18O","t":2011.675,"v":-39.57},{"s":"diffused d18O","t":2011.708,"v":-39.74},{"s":"diffused d18O","t":2011.740,"v":-38.88},{"s":"diffused d18O","t":2011.773,"v":-37.18},{"s":"diffused d18O","t":2011.838,"v":-36.67},{"s":"diffused d18O","t":2011.919,"v":-36.24},{"s":"diffused d18O","t":2011.973,"v":-36.16},{"s":"diffused d18O","t":2011.989,"v":-34.54},{"s":"diffused d18O","t":2012.027,"v":-33.52},{"s":"diffused d18O","t":2012.081,"v":-33.60},{"s":"diffused d18O","t":2012.135,"v":-34.20},{"s":"diffused d18O","t":2012.173,"v":-35.14},{"s":"diffused d18O","t":2012.206,"v":-37.18},{"s":"diffused d18O","t":2012.227,"v":-37.78},{"s":"diffused d18O","t":2012.260,"v":-36.67},{"s":"diffused d18O","t":2012.314,"v":-36.50},{"s":"diffused d18O","t":2012.341,"v":-35.31},{"s":"diffused d18O","t":2012.357,"v":-35.31},{"s":"diffused d18O","t":2012.379,"v":-36.33},{"s":"diffused d18O","t":2012.433,"v":-36.33},{"s":"diffused d18O","t":2012.460,"v":-42.97},{"s":"diffused d18O","t":2012.487,"v":-43.48},{"s":"diffused d18O","t":2012.530,"v":-44.17},{"s":"diffused d18O","t":2012.568,"v":-44.85},{"s":"diffused d18O","t":2012.600,"v":-44.30},{"s":"diffused d18O","t":2012.631,"v":-42.70},{"s":"diffused d18O","t":2012.680,"v":-40.93},{"s":"diffused d18O","t":2012.725,"v":-39.22},{"s":"diffused d18O","t":2012.770,"v":-37.01},{"s":"diffused d18O","t":2012.793,"v":-35.99},{"s":"diffused d18O","t":2012.864,"v":-35.82},{"s":"diffused d18O","t":2012.918,"v":-36.33},{"s":"diffused d18O","t":2012.983,"v":-36.67},{"s":"diffused d18O","t":2013.064,"v":-37.69},{"s":"diffused d18O","t":2013.118,"v":-38.71},{"s":"diffused d18O","t":2013.172,"v":-40.08},{"s":"diffused d18O","t":2013.242,"v":-40.16},{"s":"diffused d18O","t":2013.297,"v":-39.57},{"s":"diffused d18O","t":2013.334,"v":-41.10},{"s":"diffused d18O","t":2013.389,"v":-41.35},{"s":"diffused d18O","t":2013.443,"v":-41.52},{"s":"diffused d18O","t":2013.497,"v":-42.29},{"s":"diffused d18O","t":2013.551,"v":-43.06},{"s":"diffused d18O","t":2013.589,"v":-38.03},{"s":"diffused d18O","t":2013.632,"v":-37.35},{"s":"diffused d18O","t":2013.686,"v":-37.35},{"s":"diffused d18O","t":2013.740,"v":-37.27},{"s":"diffused d18O","t":2013.794,"v":-36.92},{"s":"diffused d18O","t":2013.848,"v":-36.67},{"s":"diffused d18O","t":2013.913,"v":-36.33},{"s":"diffused d18O","t":2013.946,"v":-34.45},{"s":"diffused d18O","t":2013.970,"v":-31.90},{"s":"diffused d18O","t":2013.995,"v":-29.60},{"s":"diffused d18O","t":2014.025,"v":-38.05},{"s":"diffused d18O","t":2014.045,"v":-38.10},{"s":"diffused d18O","t":2014.050,"v":-35.20}
    ],
    "frame": [{"top": -25}]
  },
  "layer": [
    {
      "data": {"name": "series"},
      "mark": {"type": "line", "interpolate": "linear"},
      "encoding": {
        "x": {
          "field": "t", "type": "quantitative",
          "scale": {"domain": [2002.45, 2014.45], "nice": false, "zero": false},
          "axis": {"values": [2004, 2006, 2008, 2010, 2012, 2014], "format": "d", "title": "ECHAM date (year AD)", "titlePadding": 8}
        },
        "y": {
          "field": "v", "type": "quantitative",
          "scale": {"domain": [-51.2, -25.0], "nice": false, "zero": false},
          "axis": {"values": [-50, -45, -40, -35, -30, -25], "title": "ECHAM d18O snowfall (permil)", "titlePadding": 7}
        },
        "color": {
          "field": "s", "type": "nominal",
          "scale": {"domain": ["Raw d18O", "diffused d18O"], "range": ["black", "#1E90FF"]},
          "legend": {"title": null}
        },
        "strokeWidth": {
          "field": "s", "type": "nominal",
          "scale": {"domain": ["Raw d18O", "diffused d18O"], "range": [1, 5]},
          "legend": {"title": null}
        }
      }
    },
    {
      "data": {"name": "frame"},
      "mark": {"type": "rule", "color": "black", "strokeWidth": 1.6},
      "encoding": {"y": {"field": "top", "type": "quantitative"}}
    }
  ]
}
